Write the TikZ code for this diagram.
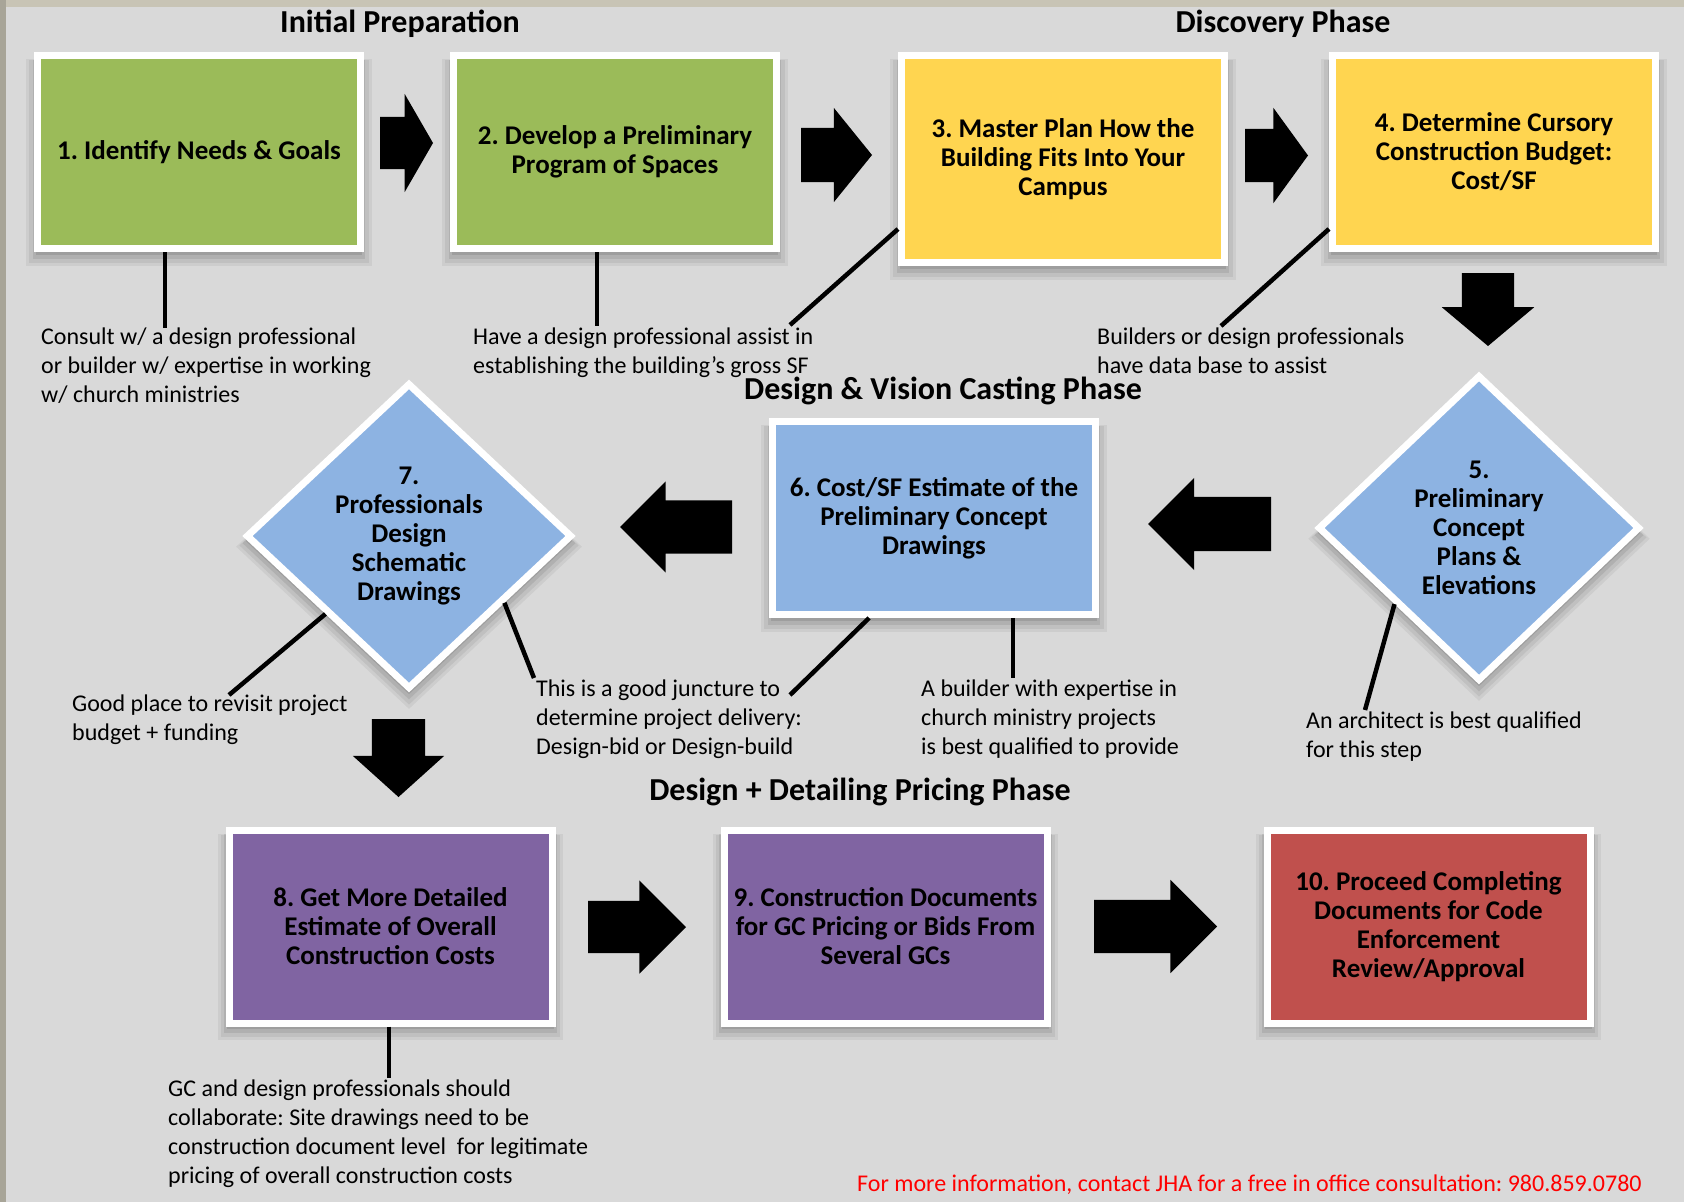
\documentclass[tikz,border=0pt]{standalone}
\usepackage{fontspec}
\setmainfont{Carlito}
\usepackage{tikz}
\usetikzlibrary{shapes,shadows}
\usetikzlibrary{positioning}
\frenchspacing
\definecolor{paper}{RGB}{217,217,217}
\definecolor{topedge}{RGB}{200,196,181}
\definecolor{leftedge}{RGB}{168,165,152}
\definecolor{prepgreen}{RGB}{155,187,89}
\definecolor{discgold}{RGB}{255,213,80}
\definecolor{visionblue}{RGB}{141,179,226}
\definecolor{pricepurple}{RGB}{128,100,162}
\definecolor{finalred}{RGB}{192,80,77}
\definecolor{contactred}{RGB}{255,0,0}
\tikzset{minimum size=0pt, font=\fontsize{24}{29}\selectfont}
\tikzstyle{shadowed} = [general shadow={shadow scale=1.07, shadow yshift=-10pt, opacity=.05, fill=black, draw=none}, general shadow={shadow scale=1.05, shadow yshift=-9pt, opacity=.06, fill=black, draw=none}, general shadow={shadow scale=1.03, shadow yshift=-7pt, opacity=.08, fill=black, draw=none}, general shadow={shadow scale=1.01, shadow yshift=-5pt, opacity=.1, fill=black, draw=none}]
\tikzstyle{stepbox} = [draw=white, line width=7pt, rectangle, minimum width=323pt, minimum height=193pt, align=center, font=\bfseries\fontsize{27}{29}\selectfont, shadowed]
\tikzstyle{decision} = [draw=white, line width=7pt, diamond, minimum width=322pt, minimum height=306pt, inner sep=0pt, align=center, fill=visionblue, font=\bfseries\fontsize{27}{29}\selectfont, shadowed]
\tikzstyle{bigarrow} = [single arrow, fill=black, draw=none, inner xsep=0pt, inner ysep=26.5pt, outer sep=0pt, single arrow head extend=20pt, anchor=tail]
\tikzstyle{dropping} = [shape border rotate=270, inner xsep=26.5pt, inner ysep=0pt]
\tikzstyle{note} = [inner sep=0pt, anchor=base west, align=left, font=\fontsize{24}{29}\selectfont]
\tikzstyle{phase} = [inner sep=0pt, anchor=base, font=\bfseries\fontsize{32}{36}\selectfont]
\tikzstyle{contact} = [inner sep=0pt, anchor=base west, text=contactred, font=\fontsize{24}{28}\selectfont]
\tikzstyle{callout} = [draw, line width=4.5pt]

\begin{document}
\begin{tikzpicture}[x=1pt, y=-1pt]
		\useasboundingbox (0,0) rectangle (1684,1202);
		\fill [paper] (0,0) rectangle (1684,1202);
		\fill [topedge] (0,0) rectangle (1684,7);
		\fill [leftedge] (0,0) rectangle (6,1202);

		\node [phase] (ph_init) at (400,32) {Initial Preparation};
		\node [phase] (ph_disc) at (1283,32) {Discovery Phase};
		\node [phase] (ph_vision) at (943,399) {Design \& Vision Casting Phase};
		\node [phase] (ph_pricing) at (860,800) {Design + Detailing Pricing Phase};

		\node [stepbox, fill=prepgreen] (needs) at (199,152) {1. Identify Needs \& Goals};
		\node [stepbox, fill=prepgreen, right=86pt of needs] (program) {2. Develop a Preliminary\\Program of Spaces};
		\node [stepbox, fill=discgold, minimum height=207pt, right=118pt of program, yshift=-7pt] (master) {3. Master Plan How the\\Building Fits Into Your\\Campus};
		\node [stepbox, fill=discgold, right=101pt of master, yshift=7pt] (budget) {4. Determine Cursory\\Construction Budget:\\Cost/SF};

		\node [decision] (concept) at (1479,528) {5.\\Preliminary\\Concept\\Plans \&\\Elevations};
		\node [stepbox, fill=visionblue] (estimate) at (934,518) {6. Cost/SF Estimate of the\\Preliminary Concept\\Drawings};
		\node [decision, minimum width=326pt] (schematic) at (409,536) {7.\\Professionals\\Design\\Schematic\\Drawings};

		\node [stepbox, fill=pricepurple] (detailed) at (390.5,926.5) {8. Get More Detailed\\Estimate of Overall\\Construction Costs};
		\node [stepbox, fill=pricepurple, right=165pt of detailed] (documents) {9. Construction Documents\\for GC Pricing or Bids From\\Several GCs};
		\node [stepbox, fill=finalred, right=213pt of documents] (approval) {10. Proceed Completing\\Documents for Code\\Enforcement\\Review/Approval};

		\node [bigarrow, minimum height=53pt, single arrow tip angle=120, single arrow head extend=23pt, inner ysep=26pt] (to_program) at (380,143) {};
		\node [bigarrow, minimum height=71pt, single arrow tip angle=102, inner ysep=27pt] (to_master) at (801,155) {};
		\node [bigarrow, minimum height=63pt, single arrow tip angle=108, single arrow head extend=21pt] (to_budget) at (1245,155.5) {};
		\node [bigarrow, dropping, minimum height=73pt, single arrow tip angle=100, inner xsep=26pt] (to_concept) at (1488,273) {};
		\node [bigarrow, minimum height=123pt, single arrow tip angle=90, shape border rotate=180, inner ysep=27pt, single arrow head extend=19pt] (to_estimate) at (1271,524) {};
		\node [bigarrow, minimum height=112pt, single arrow tip angle=90, shape border rotate=180, single arrow head extend=19pt] (to_schematic) at (732,527) {};
		\node [bigarrow, dropping, minimum height=78pt, single arrow tip angle=96, single arrow head extend=19pt] (to_detailed) at (398.5,719) {};
		\node [bigarrow, minimum height=98pt, single arrow tip angle=90, inner ysep=26pt, single arrow head extend=20.5pt] (to_documents) at (588,927) {};
		\node [bigarrow, minimum height=123pt, single arrow tip angle=90] (to_approval) at (1094,926.5) {};

		\node [note] (note_needs) at (41,402) {Consult w/ a design professional\\or builder w/ expertise in working\\w/ church ministries};
		\node [note] (note_program) at (473,373) {Have a design professional assist in\\establishing the building’s gross SF};
		\node [note] (note_budget) at (1097,373) {Builders or design professionals\\have data base to assist};
		\node [note] (note_funding) at (72,740) {Good place to revisit project\\budget + funding};
		\node [note] (note_delivery) at (536,754) {This is a good juncture to\\determine project delivery:\\Design-bid or Design-build};
		\node [note] (note_builder) at (921,754) {A builder with expertise in\\church ministry projects\\is best qualified to provide};
		\node [note] (note_architect) at (1306,757) {An architect is best qualified\\for this step};
		\node [note] (note_gc) at (168,1183) {GC and design professionals should\\collaborate: Site drawings need to be\\construction document level~ for legitimate\\pricing of overall construction costs};

		\node [contact] (contact) at (857,1191) {For more information, contact JHA for a free in office consultation: 980.859.0780};

		\coordinate (c_needs) at (165,328);
		\coordinate (c_program) at (597,326);
		\coordinate (c_master) at (790,325);
		\coordinate (c_budget) at (1221,326);
		\coordinate (c_funding) at (229,695);
		\coordinate (c_delivery) at (534,678);
		\coordinate (c_estimate) at (790,695);
		\coordinate (c_builder) at (1013,678);
		\coordinate (c_architect) at (1365,710);
		\coordinate (c_gc) at (389,1078);

		\draw [callout] (needs.south -| c_needs) -- (c_needs);
		\draw [callout] (program.south -| c_program) -- (c_program);
		\draw [callout] (master.203) -- (c_master);
		\draw [callout] (budget.205) -- (c_budget);
		\draw [callout] (schematic.223) -- (c_funding);
		\draw [callout] (schematic.325) -- (c_delivery);
		\draw [callout] (estimate.237) -- (c_estimate);
		\draw [callout] (estimate.south -| c_builder) -- (c_builder);
		\draw [callout] (concept.222) -- (c_architect);
		\draw [callout] (detailed.south -| c_gc) -- (c_gc);
	\end{tikzpicture}
\end{document}
